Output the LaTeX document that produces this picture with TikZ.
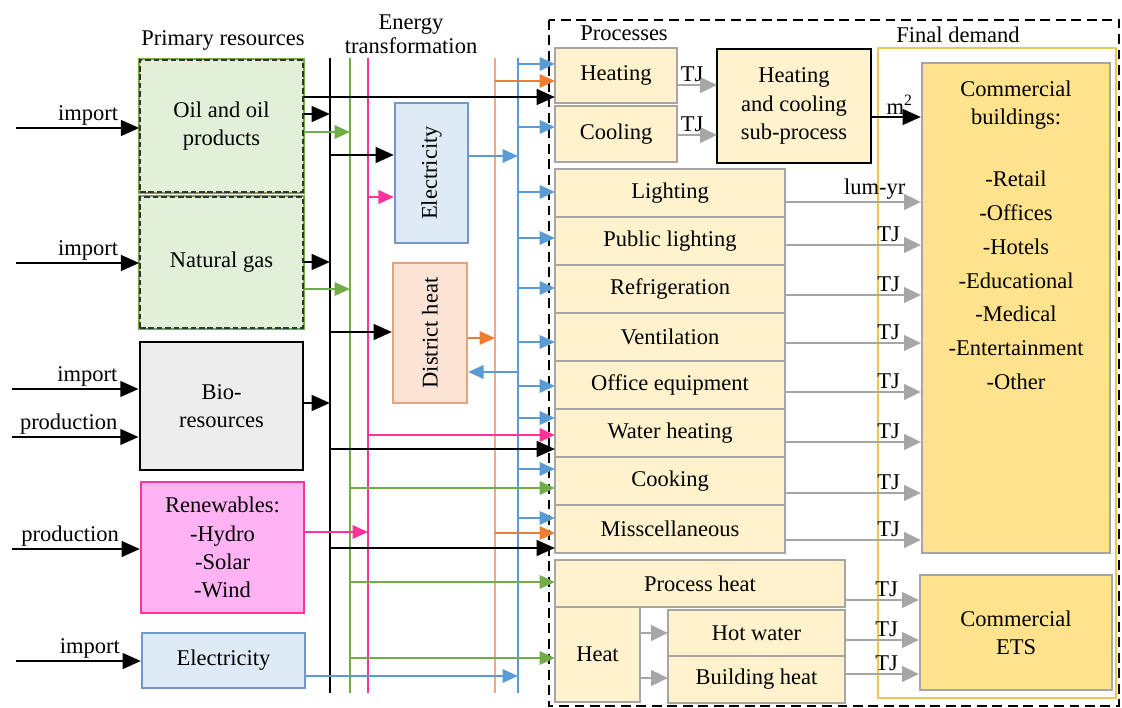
\documentclass[tikz,border=0pt]{standalone}
\usepackage{fontspec}
\setmainfont{Liberation Serif}
\usepackage{graphicx}
\usetikzlibrary{arrows.meta, positioning}

\definecolor{grn}{HTML}{70AD47}
\definecolor{pnk}{HTML}{FF3399}
\definecolor{org}{HTML}{ED7D31}
\definecolor{orgl}{HTML}{EDAA80}
\definecolor{blu}{HTML}{5B9BD5}
\definecolor{gry}{HTML}{A6A6A6}
\definecolor{procfill}{HTML}{FFF2CC}
\definecolor{demfill}{HTML}{FFE28C}
\definecolor{fossfill}{HTML}{E2F0D9}
\definecolor{biofill}{HTML}{EDEDED}
\definecolor{renfill}{HTML}{FFB3F4}
\definecolor{elfill}{HTML}{DEEBF7}
\definecolor{eldraw}{HTML}{7397C9}
\definecolor{dhfill}{HTML}{FBE3D6}
\definecolor{dhdraw}{HTML}{E4A57C}
\definecolor{framecol}{HTML}{EBC94F}

\begin{document}
\begin{tikzpicture}[
    x=0.025cm, y=-0.025cm,
    font=\fontsize{16}{20}\selectfont,
    fossil/.style={fill=fossfill, draw=black!80, dashed, dash pattern=on 4pt off 2pt, line width=1pt, align=center,
        preaction={draw=grn, solid, line width=3.5pt}},
    biobox/.style={fill=biofill, draw=black, line width=2pt, align=center},
    renbox/.style={fill=renfill, draw=pnk, line width=1.5pt, align=center},
    elbox/.style={fill=elfill, draw=eldraw, line width=1.5pt, align=center},
    dhbox/.style={fill=dhfill, draw=dhdraw, line width=1.5pt, align=center},
    proc/.style={fill=procfill, draw=gry, line width=1.5pt, outer sep=0pt, inner sep=0pt, align=center},
    row/.style={proc, minimum width=5.75cm, minimum height=1.2cm},
    demand/.style={fill=demfill, draw=gry, line width=1.5pt, align=center},
    bus/.style={line width=1.5pt},
    karr/.style={draw=black, line width=2pt, -{Triangle[length=13pt, width=11pt]}},
    carr/.style={line width=1.7pt, -{Triangle[length=11pt, width=9.5pt]}},
    garr/.style={draw=gry, line width=2pt, -{Triangle[length=12pt, width=11pt]}},
    imp/.style={anchor=south east, pos=1, xshift=-13pt, inner sep=1pt},
    tj/.style={anchor=south east, pos=1, xshift=-13pt, inner sep=1pt}
]
\useasboundingbox (0,0) rectangle (1122,708);

% titles
\node (prtitle) at (223,40) {Primary resources};
\node[align=center] (ettitle) at (411,34) {Energy\\[-3pt]transformation};
\node (pctitle) at (624,33) {Processes};
\node (fdtitle) at (958,35) {Final demand};

% study boundary
\draw[dashed, line width=2pt, dash pattern=on 7pt off 4pt] (549,20) rectangle (1119,706);

% primary resources
\node[fossil, minimum width=4.075cm, minimum height=3.3cm] (oil) at (221.5,126) {Oil and oil\\products};
\node[fossil, minimum width=4.075cm, minimum height=3.275cm] (gas) at (221.5,262.5) {Natural gas};
\node[biobox, minimum width=4.075cm, minimum height=3.2cm] (bio) at (221.5,406) {Bio-\\resources};
\node[renbox, minimum width=4.075cm, minimum height=3.275cm] (ren) at (222.5,547.5) {Renewables:\\-Hydro\\-Solar\\-Wind};
\node[elbox, minimum width=4.075cm, minimum height=1.375cm] (elimp) at (223.5,660.5) {Electricity};

% import / production
\coordinate (s1) at (16,128);
\coordinate (s2) at (16,263);
\coordinate (s3) at (12,389);
\coordinate (s4) at (12,437);
\coordinate (s5) at (12,549);
\coordinate (s6) at (16,661);
\draw[karr] (s1) -- node[imp] {import} (oil.west |- s1);
\draw[karr] (s2) -- node[imp] {import} (gas.west |- s2);
\draw[karr] (s3) -- node[imp] {import} (bio.west |- s3);
\draw[karr] (s4) -- node[imp] {production} (bio.west |- s4);
\draw[karr] (s5) -- node[imp] {production} (ren.west |- s5);
\draw[karr] (s6) -- node[imp] {import} (elimp.west |- s6);

% energy carrier buses
\coordinate (kt) at (330,58);  \coordinate (kb) at (330,693);
\coordinate (gt) at (350,58);  \coordinate (gb) at (350,693);
\coordinate (pt) at (368,58);  \coordinate (pb) at (368,693);
\coordinate (ot) at (495,58);  \coordinate (ob) at (495,693);
\coordinate (bt) at (518,58);  \coordinate (bb) at (518,693);
\draw[bus, black, line width=1.8pt] (kt) -- (kb);
\draw[bus, grn] (gt) -- (gb);
\draw[bus, pnk] (pt) -- (pb);
\draw[bus, orgl] (ot) -- (ob);
\draw[bus, blu] (bt) -- (bb);

% energy transformation
\node[elbox, minimum width=1.825cm, minimum height=3.5cm] (elec) at (431.5,173) {\rotatebox{90}{Electricity}};
\node[dhbox, minimum width=1.85cm, minimum height=3.5cm] (dh) at (430,333) {\rotatebox{90}{District heat}};

% resources to buses
\draw[karr] (oil.east |- 0,114) -- (kt |- 0,114);
\draw[carr, grn] (oil.east |- 0,132) -- (gt |- 0,132);
\draw[karr] (gas.east |- 0,262) -- (kt |- 0,262);
\draw[carr, grn] (gas.east |- 0,289) -- (gt |- 0,289);
\draw[karr] (bio.east |- 0,403) -- (kt |- 0,403);
\draw[carr, pnk] (ren.east |- 0,532) -- (pt |- 0,532);
\draw[carr, blu] (elimp.east |- 0,676) -- (bt |- 0,676);

% buses to transformation and back
\draw[karr] (kt |- 0,155) -- (elec.west |- 0,155);
\draw[carr, pnk] (pt |- 0,197) -- (elec.west |- 0,197);
\draw[carr, blu] (elec.east |- 0,156) -- (bt |- 0,156);
\draw[karr] (kt |- 0,332) -- (dh.west |- 0,332);
\draw[carr, org] (dh.east |- 0,338) -- (ot |- 0,338);
\draw[carr, blu] (bt |- 0,372) -- (dh.east |- 0,372);

% processes
\node[proc, minimum width=3.05cm, minimum height=1.375cm] (heating) at (616,75.5) {Heating};
\node[proc, minimum width=3.05cm, minimum height=1.4cm] (cooling) at (616,134) {Cooling};
\node[proc, draw=black, line width=2pt, minimum width=3.85cm, minimum height=2.85cm] (hcsub) at (794,106) {Heating\\and cooling\\sub-process};
\node[row] (light) at (670,193) {Lighting};
\node[row, below=0pt of light] (publ) {Public lighting};
\node[row, below=0pt of publ] (refr) {Refrigeration};
\node[row, below=0pt of refr] (vent) {Ventilation};
\node[row, below=0pt of vent] (offc) {Office equipment};
\node[row, below=0pt of offc] (watr) {Water heating};
\node[row, below=0pt of watr] (cook) {Cooking};
\node[row, below=0pt of cook] (misc) {Misscellaneous};
\node[proc, minimum width=7.25cm, minimum height=1.175cm] (prheat) at (700,583.5) {Process heat};
\node[proc, minimum width=2.125cm, minimum height=2.375cm] (heat) at (597.5,654.5) {Heat};
\node[proc, minimum width=4.425cm, minimum height=1.15cm] (hotw) at (756.5,633) {Hot water};
\node[proc, minimum width=4.425cm, minimum height=1.175cm, below=0pt of hotw] (bldh) {Building heat};

% buses to processes
\foreach \yy in {64,127,192,238,288,342,386,418,469,518}
  \draw[carr, blu] (bt |- 0,\yy) -- (heating.west |- 0,\yy);
\draw[carr, org] (ot |- 0,81) -- (heating.west |- 0,81);
\draw[carr, org] (ot |- 0,533) -- (misc.west |- 0,533);
\draw[karr] (oil.east |- 0,97) -- (heating.west |- 0,97);
\draw[karr] (kt |- 0,449) -- (watr.west |- 0,449);
\draw[karr] (kt |- 0,548) -- (misc.west |- 0,548);
\draw[carr, pnk] (pt |- 0,435) -- (watr.west |- 0,435);
\draw[carr, grn] (gt |- 0,488) -- (cook.west |- 0,488);
\draw[carr, grn] (gt |- 0,582) -- (prheat.west |- 0,582);
\draw[carr, grn] (gt |- 0,658) -- (heat.west |- 0,658);

% final demand
\node[draw=framecol, line width=1pt, minimum width=5.95cm, minimum height=16.25cm] (fdframe) at (997,373) {};
\node[demand, minimum width=4.7cm, minimum height=12.25cm] (comb) at (1016,308) {};
\node[anchor=north, align=center, inner sep=0pt, yshift=-13.5pt] (combtx) at (comb.north)
    {Commercial\\buildings:\\[24pt]-Retail\\[4pt]-Offices\\[4pt]-Hotels\\[4pt]-Educational\\[4pt]-Medical\\[4pt]-Entertainment\\[4pt]-Other};
\node[demand, minimum width=4.8cm, minimum height=2.875cm] (ets) at (1016,632.5) {Commercial\\ETS};

% processes to demand
\draw[garr] (heating.east |- 0,85) -- node[above, pos=0.38, inner sep=1pt] {TJ} (hcsub.west |- 0,85);
\draw[garr] (cooling.east |- 0,135) -- node[above, pos=0.38, inner sep=1pt] {TJ} (hcsub.west |- 0,135);
\draw[karr] (hcsub.east |- 0,117) -- node[anchor=south west, pos=0, xshift=9pt, inner sep=1pt] {m\textsuperscript{2}} (comb.west |- 0,117);
\draw[garr] (light.east |- 0,202) -- node[tj, xshift=4pt] {lum-yr} (comb.west |- 0,202);
\foreach \nm/\yy in {publ/245, refr/295, vent/343, offc/392, watr/442, cook/493, misc/540}
  \draw[garr] (\nm.east |- 0,\yy) -- node[tj] {TJ} (comb.west |- 0,\yy);
\draw[garr] (prheat.east |- 0,600) -- node[tj] {TJ} (ets.west |- 0,600);
\draw[garr] (hotw.east |- 0,640) -- node[tj] {TJ} (ets.west |- 0,640);
\draw[garr] (bldh.east |- 0,674) -- node[tj] {TJ} (ets.west |- 0,674);
\draw[garr] (heat.east |- 0,633) -- (hotw.west |- 0,633);
\draw[garr] (heat.east |- 0,678) -- (bldh.west |- 0,678);

\end{tikzpicture}
\end{document}
